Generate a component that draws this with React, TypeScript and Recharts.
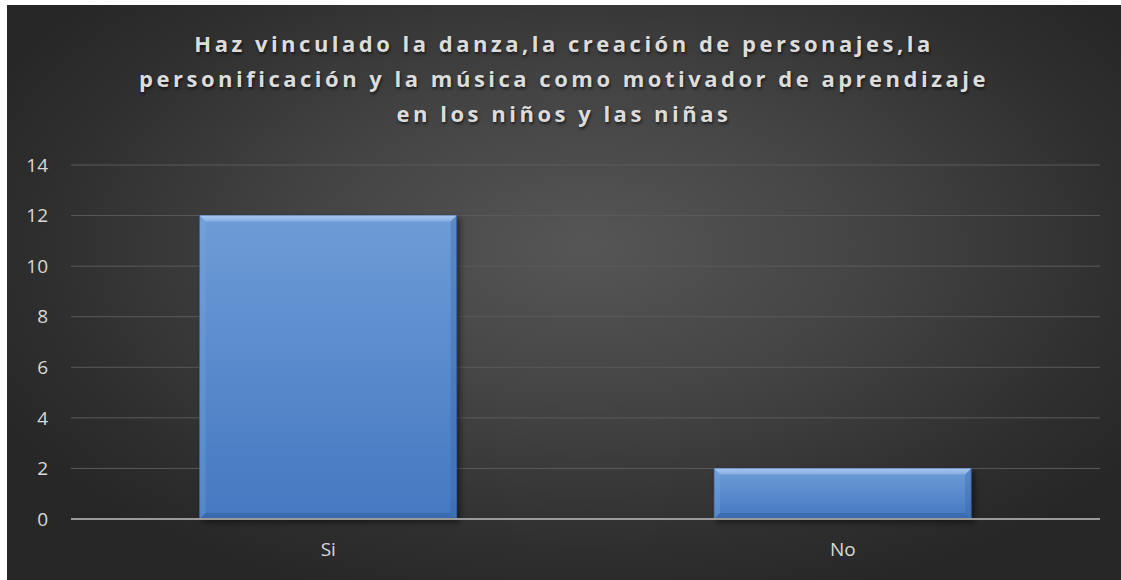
import React from "react";
import { BarChart, Bar, XAxis, YAxis, CartesianGrid } from "recharts";

const categories = ["Si", "No"];
const respuestas = [12, 2];
const yTicks = [0, 2, 4, 6, 8, 10, 12, 14];
const titleLines = [
  "Haz vinculado la danza,la creación de personajes,la",
  "personificación y la música como motivador de aprendizaje",
  "en los niños y las niñas",
];

const data = categories.map((name, i) => ({ name, value: respuestas[i] }));

const BevelBar = (props: any) => {
  const { x, y, width, height } = props;
  if (!height || height <= 0) return null;
  const b = 6;
  return (
    <g filter="url(#barShadow)">
      <rect x={x} y={y} width={width} height={height} fill="url(#barFill)" stroke="#34619c" strokeWidth={0.8} />
      <polygon
        points={`${x},${y} ${x + width},${y} ${x + width - b},${y + b} ${x + b},${y + b}`}
        fill="url(#bevelTop)"
      />
      <polygon
        points={`${x},${y} ${x + b},${y + b} ${x + b},${y + height - b} ${x},${y + height}`}
        fill="#7ea9de"
        opacity={0.3}
      />
      <polygon
        points={`${x + width},${y} ${x + width},${y + height} ${x + width - b},${y + height - b} ${x + width - b},${y + b}`}
        fill="#2f5f9e"
        opacity={0.3}
      />
      <polygon
        points={`${x},${y + height} ${x + b},${y + height - b} ${x + width - b},${y + height - b} ${x + width},${y + height}`}
        fill="#2d5a96"
        opacity={0.45}
      />
    </g>
  );
};

export default function App() {
  return (
    <div
      style={{
        position: "absolute",
        left: 0,
        top: 0,
        width: 1121,
        height: 580,
        background: "#ffffff",
        overflow: "hidden",
      }}
    >
      <div
        style={{
          position: "absolute",
          left: 7,
          top: 5,
          width: 1114,
          height: 575,
          background:
            "radial-gradient(ellipse 60% 65% at 52% 42%, #565656 0%, #444444 42%, #2e2e2e 82%, #272727 100%)",
        }}
      />
      <div
        style={{
          position: "absolute",
          left: 7,
          top: 26,
          width: 1114,
          textAlign: "center",
          fontFamily: "'Open Sans', sans-serif",
          fontWeight: 700,
          fontSize: 22,
          letterSpacing: 3.5,
          lineHeight: "35px",
          color: "#dcdcdc",
          textShadow: "1px 2px 3px rgba(0,0,0,0.6)",
        }}
      >
        {titleLines.map((t) => (
          <div key={t}>{t}</div>
        ))}
      </div>
      <div style={{ position: "absolute", left: 0, top: 0 }}>
        <BarChart
          width={1121}
          height={580}
          data={data}
          margin={{ top: 165, right: 21, bottom: 31, left: 0 }}
          barCategoryGap="25%"
        >
          <defs>
            <linearGradient id="barFill" x1="0" y1="0" x2="0" y2="1">
              <stop offset="0%" stopColor="#6e9cd7" />
              <stop offset="100%" stopColor="#4478c1" />
            </linearGradient>
            <linearGradient id="bevelTop" x1="0" y1="0" x2="0" y2="1">
              <stop offset="0%" stopColor="#a7c6ef" />
              <stop offset="100%" stopColor="#86aee3" />
            </linearGradient>
            <filter id="barShadow" x="-10%" y="-10%" width="125%" height="130%">
              <feDropShadow dx={3} dy={3} stdDeviation={3} floodColor="#000" floodOpacity={0.5} />
            </filter>
          </defs>
          <CartesianGrid vertical={false} stroke="#5a5a5a" strokeWidth={1} />
          <XAxis
            dataKey="name"
            height={30}
            axisLine={{ stroke: "#9a9a9a", strokeWidth: 2 }}
            tickLine={false}
            tickSize={0}
            tickMargin={24}
            tick={{ fill: "#d9d9d9", fontSize: 19, fontFamily: "'Open Sans', sans-serif" }}
          />
          <YAxis
            domain={[0, 14]}
            ticks={yTicks}
            width={71}
            axisLine={false}
            tickLine={false}
            tickSize={0}
            tickMargin={23}
            tick={{ fill: "#d9d9d9", fontSize: 19, fontFamily: "'Open Sans', sans-serif" }}
          />
          <Bar dataKey="value" shape={BevelBar} isAnimationActive={false} />
        </BarChart>
      </div>
    </div>
  );
}
